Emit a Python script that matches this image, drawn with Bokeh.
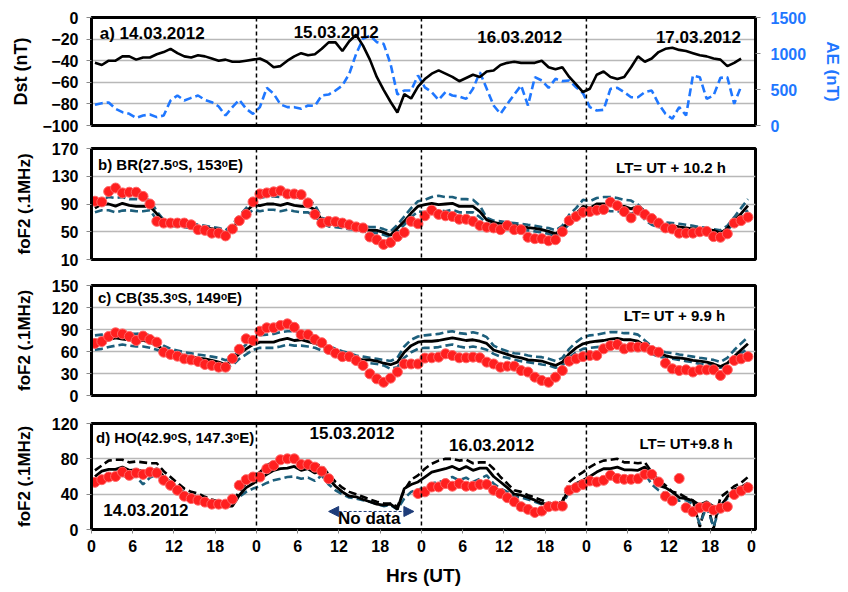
import numpy as np
from bokeh.plotting import figure
from bokeh.layouts import column
from bokeh.models import Range1d, LinearAxis, FixedTicker, Span, Label, Arrow, NormalHead
from bokeh.embed import file_html
from bokeh.resources import INLINE

nan = float("nan")

# ---------------- data ----------------
hours = np.arange(96) + 0.5          # hourly values (UT), 14-17 March 2012
hours_idx = np.arange(95) + 0.5      # Dst / AE series

xtick_positions = list(range(0, 97, 6))
xtick_labels = ["0", "6", "12", "18", "0", "6", "12", "18", "0", "6", "12", "18",
                "0", "6", "12", "18", "0"]

dst = [-42, -44, -40, -40, -36, -36, -39, -37, -37, -34, -32, -29, -33, -36, -37, -35, -36, -38, -40, -39,
       -41, -41, -40, -39, -38, -41, -46, -45, -40, -36, -33, -35, -34, -29, -23, -23, -31, -22, -16, -26,
       -39, -55, -67, -78, -88, -71, -75, -64, -57, -52, -49, -52, -55, -59, -56, -53, -55, -50, -49, -44,
       -42, -41, -42, -42, -42, -40, -46, -48, -46, -55, -62, -69, -66, -53, -50, -55, -57, -55, -46, -36,
       -41, -38, -32, -29, -28, -30, -31, -33, -35, -36, -38, -39, -45, -42, -38]

ae = [287, 310, 320, 232, 185, 162, 106, 139, 153, 116, 139, 347, 417, 347, 384, 417, 356, 324, 264, 139,
      255, 356, 232, 162, 255, 523, 440, 292, 255, 255, 232, 278, 273, 417, 430, 486, 556, 718, 995, 1204,
      1250, 1158, 1134, 857, 430, 486, 486, 695, 530, 463, 356, 463, 417, 403, 370, 509, 741, 509, 278, 162,
      301, 430, 556, 278, 671, 625, 523, 648, 616, 625, 532, 449, 255, 208, 218, 509, 523, 463, 393, 393,
      463, 486, 301, 162, 93, 255, 139, 695, 671, 370, 417, 662, 671, 301, 542]

# Panel b: BR
obs_b = [94, 93, 108, 113, 106, 107, 107, 101, 90, 65, 62.5, 62.5, 62.5, 62.5, 60, 53, 52, 48, 48, 44, 54, 66, 75, 93,
         104.5, 106, 107.5, 109, 104.5, 104.5, 103.5, 91.5, 75, 62.5, 65, 64.5, 62.5, 60, 57, 55.5, 42.5, 38.5, 31.7, 34.5, 43, 49, 65, 61.5,
         73, 81, 75, 73, 72, 68, 68, 65, 59, 56.5, 55.5, 53, 59, 53, 53, 42, 40, 40, 37, 38.5, 50, 66, 72, 78,
         79, 81, 82, 92.6, 87.6, 79, 70, 81, 75, 69, 62.5, 55.5, 54, 48, 48, 48, 50, 50.5, 43, 42, 47, 62.5, 66, 71]
med_b = [84, 90, 90, 87, 91, 88, 86.6, 86.6, 86.6, 76, 65, 62.5, 61.5, 60, 59, 57, 55.5, 54.5, 52, 48, 55, 67, 79, 89,
         87.6, 90, 90, 88, 91, 88, 86.6, 86.6, 82, 67, 61.5, 60, 59, 57, 55.5, 54, 52, 52, 49, 45, 55, 65, 77, 86.6,
         89, 91, 89, 90, 91, 86.6, 86.6, 86.6, 79, 67, 63.5, 61.5, 60, 59, 57.7, 56, 55, 53, 50.5, 47, 53.5, 67, 76, 86.6,
         84, 90, 90, 89, 86.6, 86.6, 83, 86.6, 79, 70, 60, 59.5, 59, 57, 55.5, 54, 54, 53, 52, 48, 55, 66, 76, 87.6]
up_b = [91.5, 97, 100, 98.7, 100, 97, 97, 96, 96, 79.4, 67.3, 65, 64, 63.5, 62.5, 60, 58.6, 56.7, 55.3, 52, 60, 73, 84, 96,
        98.7, 101, 101, 100, 102, 100, 98.7, 97, 89, 69.7, 67.3, 65, 63.5, 62.5, 60, 58.6, 56.7, 56.7, 53.8, 50.5, 60, 72, 84, 94,
        96, 100, 102, 100, 100, 97, 97, 96, 87.6, 70, 66, 65, 63.5, 62.5, 61.5, 60, 58.6, 56.7, 55.3, 52, 58.6, 74.6, 84, 96,
        94, 98.7, 100, 100, 98.7, 96, 95, 89, 79.4, 67.3, 65, 63.5, 62.5, 61.5, 60, 58.6, 56.7, 55.3, 53.8, 52, 58.6, 71, 84, 97]
lo_b = [78, 81, 81, 78, 80.5, 81, 79.5, 79.5, 81, 67.3, 61.5, 58.6, 57.7, 56.7, 55.3, 53.8, 52.9, 50.5, 49, 44.3, 52, 62.5, 73, 81.8,
        79.5, 81.8, 81.8, 79.5, 81.8, 79.5, 78, 78, 72, 62.5, 57.7, 56.7, 55.3, 53.8, 52.9, 50.5, 49, 48, 45.6, 42.3, 50.5, 60, 71, 79.5,
        78, 81, 81, 79.5, 81.8, 78, 78, 78, 71, 62.5, 58.6, 56.7, 55.3, 53.8, 52.9, 52, 50.5, 49, 47.1, 43.2, 50.5, 61.5, 71, 79.5,
        77, 81.8, 81.8, 79.5, 79.5, 78, 76, 79.5, 67.3, 60, 56.7, 56.2, 55.3, 53.8, 52.9, 52, 50.5, 49, 48, 45.6, 52, 62.5, 71, 81]

# Panel c: CB
obs_c = [71, 73.6, 80.5, 85.5, 84, 80.5, 75, 81, 76.4, 72.7, 59, 56, 53.6, 50, 48.6, 46.4, 42.3, 41, 38.6, 38.6, 50.5, 63, 77.3, 75,
         87.7, 92.3, 92.3, 95.5, 97.7, 93, 83, 83, 76.4, 72, 62.7, 57.7, 53, 53, 47.7, 41, 29.5, 22.7, 18, 23.6, 32, 43, 43, 43,
         51, 51.4, 52.3, 56.8, 54.5, 51.4, 51.4, 52.3, 51.4, 45.5, 43, 38.6, 40, 40, 34, 32, 25, 20.5, 18, 25, 34, 46.8, 50, 53,
         54.5, 54.5, 63.6, 68, 69.5, 63.6, 66, 66, 66, 61.4, 59, 44, 36.4, 34, 35, 32, 35, 35, 35, 27.3, 35, 47.7, 50, 53]
med_c = [71, 74, 76, 78.6, 77, 76, 75, 75, 72.7, 68, 62.7, 59, 57, 54.5, 53, 51, 50, 48, 45.5, 42.3, 48, 57, 63.6, 69.5,
         72.7, 72.7, 72.7, 76, 78, 75, 76, 73.6, 71, 68, 62.7, 59, 56, 53, 50, 48.6, 48.6, 47, 44, 42, 45.5, 59, 68, 72.7,
         74, 74, 75, 77, 78.6, 77, 75, 76, 74, 71, 62, 59, 56, 53, 51.4, 48.6, 48, 47, 44, 41, 45.5, 57, 65, 70.5,
         72.7, 74, 75, 77, 78, 76, 76, 74, 68, 61.4, 57.7, 54.5, 52, 51.4, 50, 48, 47, 45.5, 43, 39.5, 44, 53, 62, 70.5]
up_c = [82, 83, 84, 84, 85, 84, 84, 85, 82, 75, 68, 63.6, 61.4, 59, 57.7, 56, 54.5, 53, 51.4, 48, 51.4, 61.4, 69.5, 77.3,
        82, 83, 84, 86.4, 87.7, 87.7, 85, 84, 79.5, 74, 68, 63.6, 60.5, 57.7, 54.5, 53, 51.4, 50, 48.6, 47, 51.4, 66.8, 76, 80.5,
        82, 83, 84, 86.4, 87.7, 85, 84, 86.4, 84, 79.5, 68, 63.6, 60.5, 57.7, 56.8, 54.5, 53, 52.3, 50, 47, 51.4, 63.6, 72.7, 79.5,
        82, 83, 85, 86.4, 86.4, 85, 85, 83, 75, 66.8, 62, 59, 57.7, 56, 54.5, 53, 51.4, 50, 48.6, 45.5, 51.4, 62, 71, 79.5]
lo_c = [62.3, 63.6, 66, 68, 69.5, 68, 66.8, 66.8, 65, 62.3, 59, 54.5, 53, 51.4, 50, 47.7, 46.8, 44, 42.3, 38.6, 41, 50, 56, 62.3,
        65, 65, 65, 66.8, 69.5, 68, 68, 66.8, 65, 61.4, 59, 54.5, 52.3, 50, 47.7, 45.5, 44, 43, 41, 36.4, 38.6, 51.4, 59, 63.6,
        65, 65, 66, 68, 69.5, 66.8, 65, 66.8, 65, 62.3, 56.8, 53, 51.4, 48.6, 46.8, 45.5, 44, 42.3, 41, 37.7, 41, 51.4, 59, 63.6,
        65, 66, 66.8, 68, 69.5, 68, 68, 66, 62.3, 56.8, 53, 51.4, 50, 48.6, 46.8, 45.5, 43, 42.3, 41, 37.7, 42.3, 51.4, 57.7, 63.6]

# Panel d: HO
obs_d = [53.4, 56.4, 59.4, 60, 65, 61.3, 64, 62.4, 65, 64, 55.7, 50, 44.4, 37.7, 35, 33.2, 31, 28.7, 28.7, 28.7, 34.4, 50, 56.4, 59.4,
         59.4, 68.8, 72.5, 78.9, 80, 80, 73.6, 73.6, 70.6, 66, 57.5, nan, nan, nan, nan, nan, nan, nan, nan, nan, nan, nan, nan, 40.7,
         42.6, 48.2, 48.2, 52, 49, 52, 49, 49, 51, 51, 44.4, 40.7, 36, 31.4, 25.8, 22.8, 19.3, 20.9, 25.8, 26.5, 26.5, 44.4, 47.4, 51,
         55, 53.8, 55.7, 61.3, 57.8, 56.8, 56.8, 57.5, 62.4, 62.4, 53.8, 37.7, 32.5, 57.8, 24.6, 20.1, 24.6, 25.8, 22, 24, 25.8, 39.6, 43.7, 47.4]
med_d = [60, 66, 68, 68, 70.6, 67, 67.6, 66, 65, 68.8, 60, 53.8, 47.4, 41.5, 38.8, 36.2, 33.2, 31.4, 29.5, 26.5, 26.5, 38.8, 47.4, 52,
         57.5, 62.4, 67, 68.8, 69.5, 71.4, 67, 68.8, 64, 67, 57.5, 49, 42.6, 37.7, 37, 34, 31.4, 28.7, 27.6, 28.7, 23, 46.3, 51, 53.8,
         59.4, 65, 67, 68.8, 71.4, 67.6, 71.4, 67, 69.5, 69.5, 60, 53.8, 47.4, 40, 38.8, 36.2, 33.2, 29.5, 28.7, 26.5, 31.4, 46.3, 52, 55.7,
         60, 65, 68.8, 68.8, 70.6, 67.6, 67.6, 67, 70.6, 61.3, 50, 47.4, 42.6, 36.2, 35, 32.5, 27.6, 31.4, 25.8, 25.8, 37, 45, 48, 52.7]
up_d = [67, 72.5, 78, 79, 79, 76, 77, 76, 75, 75, 66, 59.4, 52.7, 46.3, 42.6, 40.7, 37, 34, 31.4, 28.7, 31.4, 42.6, 52.7, 58.7,
        65, 72.5, 77, 78, 79, 79, 76, 76, 73.6, 72.5, 62.4, 53.8, 47.4, 42.6, 40, 37, 34, 31.4, 29.5, 29.5, 25.8, 44.4, 56.4, 61.3,
        68.8, 74.4, 78, 80, 80, 78, 79, 75, 76, 76, 68.8, 59.4, 52, 44.4, 42.6, 38.8, 36.2, 33.2, 30.2, 28.7, 31.4, 53.8, 60, 65,
        70.6, 75, 78, 79, 80, 76, 76, 75, 76, 65, 55.7, 50, 42.6, 40.7, 36.2, 33, 3, 33, 1, 36.6, 42.6, 49, 52.7, 59.4]
lo_d = [52.7, 56.4, 57.5, 59.4, 61.3, 58.7, 60, 51, 58.7, 62.4, 53.8, 48.2, 43.7, 37.7, 35, 33.2, 31.4, 28.7, 27.6, 25, 28.7, 37, 42.6, 46.3,
        49, 52.7, 55.7, 57.5, 59.4, 60, 57.5, 58.7, 55, 61.3, 51, 44.4, 40, 36.2, 35, 33.2, 31.4, 28.7, 26.5, 27.6, 22.8, 35, 42.6, 45.2,
        47.4, 52, 53.8, 55.7, 59.4, 55.7, 58.7, 53.8, 57.5, 61.3, 52, 46.3, 42.6, 37, 36.2, 34, 31.4, 28.7, 26.5, 25, 28.7, 42.6, 47.4, 50,
        53.8, 55.7, 57.5, 58.7, 61.3, 55.7, 57.5, 53.8, 63.9, 51, 44.4, 40.7, 37, 32.5, 33.2, 28.7, 6, 25.8, 3, 27.6, 35, 41.5, 45.2, 50]

# ---------------- style ----------------
FONT = "Liberation Sans"
RED = "#ff1f1f"
TEAL = "#1d5f7c"
BLUE = "#1f77ff"
NAVY = "#1f3d7a"
GRID = "#b8b8b8"
INK = "#000000"


def style_yaxis(ax, ticks, label, standoff, color=INK):
    ax.ticker = FixedTicker(ticks=ticks)
    ax.axis_label = label
    ax.axis_label_text_font = FONT
    ax.axis_label_text_font_style = "bold"
    ax.axis_label_text_font_size = "17px"
    ax.axis_label_text_color = color
    ax.axis_label_standoff = standoff
    ax.major_label_text_font = FONT
    ax.major_label_text_font_style = "bold"
    ax.major_label_text_font_size = "16px"
    ax.major_label_text_color = color
    ax.major_label_standoff = 8
    ax.major_tick_out = 5
    ax.major_tick_in = 0
    ax.major_tick_line_color = "#888888"
    ax.minor_tick_line_color = None
    ax.axis_line_color = "black"
    ax.axis_line_width = 3


def make_fig(height, top, bottom, y0, y1, ticks, label, standoff, xaxis=False):
    p = figure(width=848, height=height, x_range=Range1d(0, 96.6), y_range=Range1d(y0, y1),
               output_backend="svg", toolbar_location=None,
               x_axis_location="below" if xaxis else None,
               min_border_left=91, min_border_right=93,
               min_border_top=top, min_border_bottom=bottom)
    p.outline_line_color = "black"
    p.outline_line_width = 3
    p.outline_line_alpha = 1
    p.background_fill_color = "white"
    p.border_fill_color = "white"
    p.xgrid.grid_line_color = None
    p.ygrid.ticker = FixedTicker(ticks=ticks)
    p.ygrid.grid_line_color = GRID
    p.ygrid.grid_line_width = 1.3
    style_yaxis(p.yaxis[0], ticks, label, standoff)
    for d in (24, 48, 72):
        p.add_layout(Span(location=d, dimension="height", line_color="black",
                          line_dash="4 3", line_width=1.5))
    return p


def label(p, x, y, text, size="15px", align="left", y_range_name="default"):
    p.add_layout(Label(x=x, y=y, text=text, text_font=FONT, text_font_style="bold",
                       text_font_size=size, text_align=align, text_baseline="middle",
                       text_color=INK, y_range_name=y_range_name))


# ---------------- panel a ----------------
pa = make_fig(136, 17, 11, -100, 0, [-100, -80, -60, -40, -20, 0], "Dst (nT)", 8)
pa.yaxis[0].axis_label_text_font_size = "18px"
pa.extra_y_ranges = {"ae": Range1d(0, 1500)}
ax2 = LinearAxis(y_range_name="ae")
style_yaxis(ax2, [0, 500, 1000, 1500], "AE (nT)", 14, color=BLUE)
ax2.major_label_standoff = 10
pa.add_layout(ax2, "right")
pa.line(hours_idx, ae, y_range_name="ae", line_color=BLUE, line_width=2.6, line_dash="8 4")
pa.line(hours_idx, dst, line_color="black", line_width=2.6)
label(pa, 1.2, -15, "a) 14.03.2012", size="17px")
label(pa, 35.6, -13, "15.03.2012", size="17px", align="center")
label(pa, 62.3, -18.5, "16.03.2012", size="17px", align="center")
label(pa, 88.3, -18.5, "17.03.2012", size="17px", align="center")


def fo_panel(p, obs, med, up, lo, up_color=TEAL):
    p.line(hours, up, line_color=up_color, line_width=2.6, line_dash="8 4")
    p.line(hours, lo, line_color=TEAL, line_width=2.6, line_dash="8 4")
    p.line(hours, med, line_color="black", line_width=2.8)
    p.scatter(hours, obs, size=10, fill_color=RED, line_color="#ff6464", line_width=1)


# ---------------- panel b ----------------
pb = make_fig(136, 12, 13, 10, 170, [10, 50, 90, 130, 170], "foF2 (.1MHz)", 15)
fo_panel(pb, obs_b, med_b, up_b, lo_b)
label(pb, 0.95, 147, "b) BR(27.5ᵒS, 153ᵒE)")
label(pb, 84.3, 142.6, "LT= UT + 10.2 h", align="center")

# ---------------- panel c ----------------
pc = make_fig(138, 13, 15, 0, 150, [0, 30, 60, 90, 120, 150], "foF2 (.1MHz)", 15)
fo_panel(pc, obs_c, med_c, up_c, lo_c)
label(pc, 0.95, 133.6, "c) CB(35.3ᵒS, 149ᵒE)")
label(pc, 84.8, 109, "LT= UT + 9.9 h", align="center")

# ---------------- panel d ----------------
pd_ = make_fig(182, 13, 63, 0, 120, [0, 40, 80, 120], "foF2 (.1MHz)", 15, xaxis=True)
fo_panel(pd_, obs_d, med_d, up_d, lo_d, up_color="black")
xa = pd_.xaxis[0]
xa.ticker = FixedTicker(ticks=xtick_positions)
xa.major_label_overrides = {t: s for t, s in zip(xtick_positions, xtick_labels)}
xa.axis_label = "Hrs (UT)"
xa.axis_label_text_font = FONT
xa.axis_label_text_font_style = "bold"
xa.axis_label_text_font_size = "19px"
xa.axis_label_text_color = INK
xa.axis_label_standoff = 10
xa.major_label_text_font = FONT
xa.major_label_text_font_style = "bold"
xa.major_label_text_font_size = "16px"
xa.major_label_text_color = INK
xa.major_label_standoff = 6
xa.major_tick_out = 4
xa.major_tick_in = 0
xa.major_tick_line_color = "#888888"
xa.minor_tick_line_color = None
xa.axis_line_color = "black"
xa.axis_line_width = 3
label(pd_, 0.65, 104, "d) HO(42.9ᵒS, 147.3ᵒE)")
label(pd_, 37.9, 108.7, "15.03.2012", size="17px", align="center")
label(pd_, 7.9, 22.6, "14.03.2012", size="17px", align="center")
label(pd_, 58.2, 96.2, "16.03.2012", size="17px", align="center")
label(pd_, 86.5, 97.4, "LT= UT+9.8 h", align="center")
label(pd_, 40.4, 12.5, "No data", size="17px", align="center")
pd_.add_layout(Arrow(start=NormalHead(size=10, fill_color=NAVY, line_color=NAVY),
                     end=NormalHead(size=10, fill_color=NAVY, line_color=NAVY),
                     x_start=34.5, y_start=20.4, x_end=46.9, y_end=20.4,
                     line_color=NAVY, line_width=1, line_dash="3 2"))

layout = column(pa, pb, pc, pd_, spacing=0)
open("out.html", "w").write(file_html(layout, INLINE))
